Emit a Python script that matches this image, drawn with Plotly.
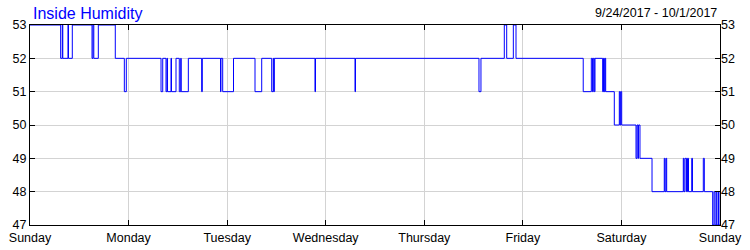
import plotly.graph_objects as go

# Step-change readings (time of change, new humidity value)
times = [
    "2017-09-24 00:00", "2017-09-24 07:28", "2017-09-24 07:52", "2017-09-24 07:59",
    "2017-09-24 09:15", "2017-09-24 09:22", "2017-09-24 10:18", "2017-09-24 15:06",
    "2017-09-24 15:20", "2017-09-24 15:32", "2017-09-24 16:38", "2017-09-24 20:46",
    "2017-09-24 22:58", "2017-09-24 23:27",
    "2017-09-25 07:54", "2017-09-25 08:19", "2017-09-25 09:07", "2017-09-25 09:21",
    "2017-09-25 09:29", "2017-09-25 10:20", "2017-09-25 10:27", "2017-09-25 11:33",
    "2017-09-25 12:21", "2017-09-25 12:42", "2017-09-25 12:49", "2017-09-25 14:33",
    "2017-09-25 17:48", "2017-09-25 17:57", "2017-09-25 22:23", "2017-09-25 22:30",
    "2017-09-25 22:55",
    "2017-09-26 01:33", "2017-09-26 06:47", "2017-09-26 08:25", "2017-09-26 10:51",
    "2017-09-26 11:14", "2017-09-26 11:22", "2017-09-26 11:29", "2017-09-26 21:23",
    "2017-09-26 21:31",
    "2017-09-27 07:08", "2017-09-27 07:15",
    "2017-09-28 13:19", "2017-09-28 13:48", "2017-09-28 19:29", "2017-09-28 20:04",
    "2017-09-28 21:41", "2017-09-28 22:20",
    "2017-09-29 14:42", "2017-09-29 16:40", "2017-09-29 16:57", "2017-09-29 17:09",
    "2017-09-29 17:24", "2017-09-29 17:34", "2017-09-29 19:26", "2017-09-29 19:38",
    "2017-09-29 19:50", "2017-09-29 20:00", "2017-09-29 20:10", "2017-09-29 22:16",
    "2017-09-29 23:29", "2017-09-29 23:39", "2017-09-29 23:49",
    "2017-09-30 00:04", "2017-09-30 03:33", "2017-09-30 03:47", "2017-09-30 04:02",
    "2017-09-30 04:09", "2017-09-30 04:31", "2017-09-30 07:27", "2017-09-30 10:26",
    "2017-09-30 10:36", "2017-09-30 10:51", "2017-09-30 11:01", "2017-09-30 15:04",
    "2017-09-30 15:14", "2017-09-30 15:29", "2017-09-30 15:51", "2017-09-30 16:05",
    "2017-09-30 16:20", "2017-09-30 17:07", "2017-09-30 17:18", "2017-09-30 19:56",
    "2017-09-30 20:11", "2017-09-30 22:13", "2017-09-30 22:32", "2017-09-30 22:47",
    "2017-09-30 23:06", "2017-09-30 23:16", "2017-09-30 23:38", "2017-09-30 23:45",
    "2017-10-01 00:00",
]
humidity = [
    53, 52, 53, 52, 53, 52, 53, 52, 53, 52, 53, 52, 51, 52,
    51, 52, 51, 52, 51, 52, 51, 52, 51, 52, 51, 52, 51, 52, 51, 52, 51,
    52, 51, 52, 51, 52, 51, 52, 51, 52,
    51, 52,
    51, 52, 53, 52, 53, 52,
    51, 52, 51, 52, 51, 52, 51, 52, 51, 52, 51, 50, 51, 50, 51,
    50, 49, 50, 49, 50, 49, 48, 49, 48, 49, 48, 49, 48, 49, 48, 49, 48,
    49, 48, 49, 48, 47, 48, 47, 48, 47, 48, 47,
    47,
]

title_text = "Inside Humidity"
date_range_text = "9/24/2017 - 10/1/2017"
y_ticks = [47, 48, 49, 50, 51, 52, 53]
x_range = ["2017-09-24 00:00", "2017-10-01 00:00"]

FONT = "Liberation Sans, Arial, sans-serif"

fig = go.Figure()
fig.add_trace(go.Scatter(
    x=times, y=humidity, mode="lines", line_shape="hv",
    line=dict(color="#0000FF", width=1), showlegend=False, hoverinfo="skip",
))
fig.add_trace(go.Scatter(
    x=times, y=humidity, mode="lines", line_shape="hv", yaxis="y2",
    line=dict(color="rgba(0,0,0,0)", width=1), showlegend=False, hoverinfo="skip",
))

axis_font = dict(family=FONT, size=12.5, color="#000000")

fig.update_layout(
    width=750, height=250,
    margin=dict(l=30, r=30, t=25, b=25),
    paper_bgcolor="white", plot_bgcolor="white",
    xaxis=dict(
        type="date", range=x_range, dtick=86400000, tick0="2017-09-24",
        tickformat="%A", showgrid=True, gridcolor="#d3d3d3", gridwidth=1,
        showline=True, linecolor="black", linewidth=1, mirror="ticks",
        ticks="inside", ticklen=5, tickcolor="black", tickfont=axis_font,
        zeroline=False, fixedrange=True, automargin=False, ticklabelstandoff=1,
    ),
    yaxis=dict(
        range=[47, 53], tickvals=y_ticks, showgrid=True, gridcolor="#d3d3d3",
        gridwidth=1, showline=True, linecolor="black", linewidth=1, mirror=True,
        ticks="inside", ticklen=5, tickcolor="black", tickfont=axis_font,
        zeroline=False, fixedrange=True, automargin=False,
    ),
    yaxis2=dict(
        range=[47, 53], tickvals=y_ticks, overlaying="y", side="right",
        showgrid=False, showline=False, ticks="inside", ticklen=5,
        tickcolor="black", tickfont=axis_font, zeroline=False, fixedrange=True,
        automargin=False,
    ),
    annotations=[
        dict(text=title_text, xref="paper", yref="paper", x=0, y=1,
             xanchor="left", yanchor="bottom", xshift=1, yshift=1, showarrow=False,
             font=dict(family=FONT, size=16, color="#0000FF")),
        dict(text=date_range_text, xref="paper", yref="paper", x=1, y=1,
             xanchor="right", yanchor="bottom", xshift=-1, yshift=3, showarrow=False,
             font=dict(family=FONT, size=12.5, color="#000000")),
    ],
)

fig.write_html("out.html")
